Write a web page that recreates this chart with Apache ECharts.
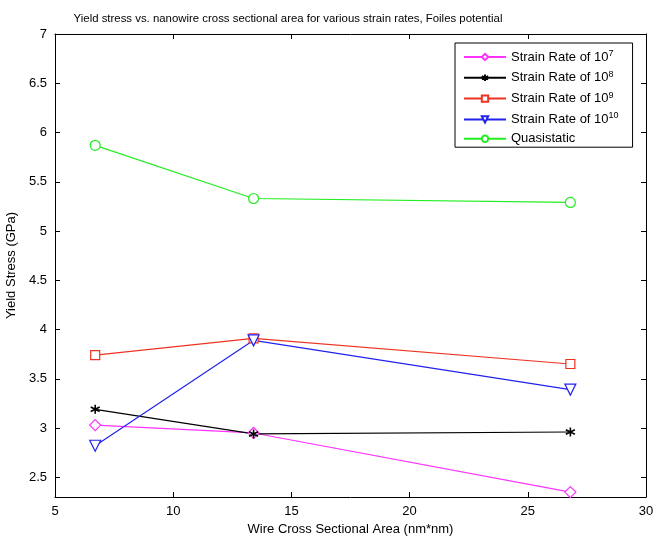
<!DOCTYPE html>
<html>
<head>
<meta charset="utf-8">
<script src="https://cdn.jsdelivr.net/npm/echarts@6/dist/echarts.min.js"></script>
<style>
  html, body { margin: 0; padding: 0; background: #fff; }
  #chart { width: 654px; height: 536px; }
</style>
</head>
<body>
<div id="chart"></div>
<script>
// wire cross sectional area (nm*nm)
var areas = [6.7, 13.4, 26.8];

// yield stress (GPa) per strain rate
var rate7 = [3.03, 2.95, 2.35];
var rate8 = [3.19, 2.94, 2.96];
var rate9 = [3.74, 3.91, 3.65];
var rate10 = [2.82, 3.89, 3.39];
var quasi = [5.87, 5.33, 5.29];

var xTicks = [5, 10, 15, 20, 25, 30];
var yTicks = [2.5, 3, 3.5, 4, 4.5, 5, 5.5, 6, 6.5, 7];

var names = ['Strain Rate of 10^7', 'Strain Rate of 10^8', 'Strain Rate of 10^9', 'Strain Rate of 10^10', 'Quasistatic'];

var font = 'Liberation Sans, Arial, sans-serif';
var asterisk = 'path://M0,-5L0,5M-4.3,-2.5L4.3,2.5M-4.3,2.5L4.3,-2.5M0,-5Z';

function pts(ys) {
  return areas.map(function (x, i) { return [x, ys[i]]; });
}

function mkSeries(name, ys, color, symbol, size, rotate) {
  return {
    name: name,
    type: 'line',
    data: pts(ys),
    symbol: symbol,
    symbolSize: size,
    symbolRotate: rotate || 0,
    showAllSymbol: true,
    lineStyle: { color: color, width: 1.2 },
    itemStyle: { color: '#fff', borderColor: color, borderWidth: 1.2 },
    emphasis: { disabled: true },
    z: 3
  };
}

var chart = echarts.init(document.getElementById('chart'));

var axisCommon = {
  axisLine: { show: true, lineStyle: { color: '#000', width: 1 } },
  splitLine: { show: false }
};

var option = {
  animation: false,
  backgroundColor: '#fff',
  title: {
    text: 'Yield stress vs. nanowire cross sectional area for various strain rates, Foiles potential',
    left: 283,
    textAlign: 'center',
    top: 8,
    textStyle: { fontFamily: font, fontSize: 11.4, fontWeight: 'normal', color: '#000' }
  },
  grid: { left: 55, right: 8, top: 34, bottom: 39, outerBoundsMode: 'none', containLabel: false },
  legend: {
    orient: 'vertical',
    left: 455,
    top: 43,
    itemWidth: 42,
    itemHeight: 8,
    itemGap: 6.3,
    padding: [6, 14, 2, 8],
    borderColor: '#000',
    borderWidth: 1,
    backgroundColor: '#fff',
    data: names,
    formatter: function (n) {
      var m = n.match(/^(.*10)\^(\d+)$/);
      if (m) return m[1] + '{sup|' + m[2] + '}';
      return n;
    },
    textStyle: {
      fontFamily: font, fontSize: 13, color: '#000',
      rich: { sup: { fontFamily: font, fontSize: 9, verticalAlign: 'top', padding: [0, 0, 7, 0], color: '#000' } }
    }
  },
  xAxis: [
    Object.assign({
      type: 'value', min: 5, max: 30, interval: 5,
      name: 'Wire Cross Sectional Area (nm*nm)',
      nameLocation: 'middle', nameGap: 25,
      nameTextStyle: { fontFamily: font, fontSize: 13, color: '#000' },
      axisTick: { show: true, inside: true, length: 5, lineStyle: { color: '#000' } },
      axisLabel: { fontFamily: font, fontSize: 13, color: '#000', margin: 8 }
    }, axisCommon),
    Object.assign({
      type: 'value', min: 5, max: 30, interval: 5, position: 'top',
      axisTick: { show: true, inside: true, length: 5, lineStyle: { color: '#000' } },
      axisLabel: { show: false }
    }, axisCommon)
  ],
  yAxis: [
    Object.assign({
      type: 'value', min: 2.3, max: 7,
      name: 'Yield Stress (GPa)',
      nameLocation: 'middle', nameGap: 37,
      nameTextStyle: { fontFamily: font, fontSize: 13, color: '#000' },
      axisTick: { show: true, inside: true, length: 5, customValues: yTicks, lineStyle: { color: '#000' } },
      axisLabel: { fontFamily: font, fontSize: 13, color: '#000', margin: 8, customValues: yTicks }
    }, axisCommon),
    Object.assign({
      type: 'value', min: 2.3, max: 7, position: 'right',
      axisTick: { show: true, inside: true, length: 5, customValues: yTicks, lineStyle: { color: '#000' } },
      axisLabel: { show: false, customValues: yTicks }
    }, axisCommon)
  ],
  series: [
    mkSeries(names[0], rate7, '#ff33ff', 'diamond', 11),
    (function () {
      var s = mkSeries(names[1], rate8, '#000000', asterisk, 9);
      s.itemStyle = { color: '#000', borderColor: '#000', borderWidth: 1.6 };
      return s;
    })(),
    mkSeries(names[2], rate9, '#ee3322', 'rect', 9),
    mkSeries(names[3], rate10, '#2222ee', 'triangle', 11, 180),
    mkSeries(names[4], quasi, '#22ee22', 'circle', 10)
  ]
};

chart.setOption(option);
</script>
</body>
</html>
